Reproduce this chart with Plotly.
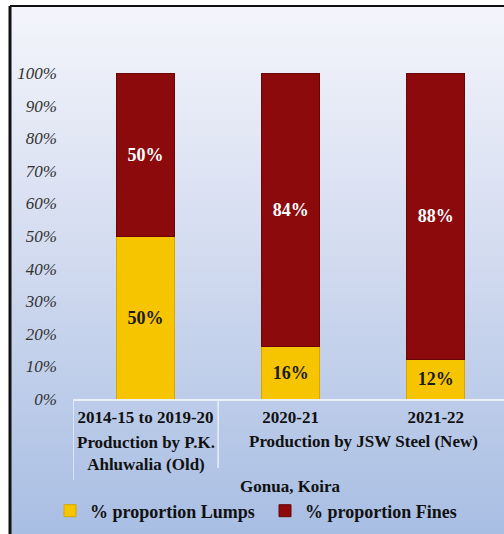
import base64
import plotly.graph_objects as go

categories = ["2014-15 to 2019-20", "2020-21", "2021-22"]
lumps = [50, 16, 12]
fines = [50, 84, 88]
group_labels = ["Production by P.K.<br>Ahluwalia (Old)", "Production by JSW Steel (New)"]
site_label = "Gonua, Koira"
y_ticks = [0, 10, 20, 30, 40, 50, 60, 70, 80, 90, 100]

W, H = 504, 534
L, R, T, B = 73, 0, 73, 135
PW, PH = W - L - R, H - T - B


def px_x(p):
    return (p - L) / PW


def px_y(p):
    return (H - B - p) / PH


SERIF = "Liberation Serif, Times New Roman, serif"

svg = ("<svg xmlns='http://www.w3.org/2000/svg' width='100' height='100' preserveAspectRatio='none'>"
       "<defs><linearGradient id='g' x1='0' y1='0' x2='0' y2='1'>"
       "<stop offset='0' stop-color='#f4f5fb'/>"
       "<stop offset='0.45' stop-color='#d4dcf0'/>"
       "<stop offset='1' stop-color='#a8bee3'/>"
       "</linearGradient></defs><rect width='100' height='100' fill='url(#g)'/></svg>")
bg_src = "data:image/svg+xml;base64," + base64.b64encode(svg.encode()).decode()

fig = go.Figure()
fig.add_trace(go.Bar(
    x=categories, y=lumps, name="% proportion Lumps",
    marker=dict(color="#f7c500", line=dict(color="#d8a600", width=1)),
    text=[f"{v}%" for v in lumps], textposition="inside", insidetextanchor="middle",
    textangle=0,
    textfont=dict(family=SERIF, size=18, color="#1a1a1a", weight="bold"),
    width=0.4,
))
fig.add_trace(go.Bar(
    x=categories, y=fines, name="% proportion Fines",
    marker=dict(color="#8c0a0c", line=dict(color="#6a0506", width=1)),
    text=[f"{v}%" for v in fines], textposition="inside", insidetextanchor="middle",
    textangle=0,
    textfont=dict(family=SERIF, size=18, color="white", weight="bold"),
    width=0.4,
))

line_col = "#e9eef7"
shapes = [
    dict(type="line", xref="paper", yref="paper", x0=px_x(10), x1=px_x(10), y0=px_y(6), y1=px_y(534),
         line=dict(color="#111111", width=3)),
    dict(type="line", xref="paper", yref="paper", x0=px_x(10), x1=1, y0=px_y(6), y1=px_y(6),
         line=dict(color="#111111", width=2)),
    dict(type="line", xref="x", yref="paper", x0=-0.5, x1=-0.5, y0=0, y1=px_y(480),
         line=dict(color=line_col, width=1.5)),
    dict(type="line", xref="x", yref="paper", x0=0.5, x1=0.5, y0=0, y1=px_y(468),
         line=dict(color=line_col, width=1.5)),
]

lab_font = dict(family=SERIF, size=17, color="#111111", weight="bold")
annotations = [
    dict(x=0, xref="x", y=px_y(431), yref="paper", yanchor="top", text=group_labels[0],
         showarrow=False, font=lab_font),
    dict(x=1.5, xref="x", y=px_y(442), yref="paper", yanchor="middle", text=group_labels[1],
         showarrow=False, font=lab_font),
    dict(x=1, xref="x", y=px_y(486), yref="paper", yanchor="middle", text=site_label,
         showarrow=False, font=lab_font),
]

fig.update_layout(
    width=W, height=H,
    margin=dict(l=L, r=R, t=T, b=B, pad=0),
    barmode="stack",
    paper_bgcolor="white",
    plot_bgcolor="rgba(0,0,0,0)",
    images=[dict(source=bg_src, xref="paper", yref="paper", x=px_x(10), y=px_y(6),
                 sizex=1 - px_x(10), sizey=px_y(6) - px_y(534), xanchor="left", yanchor="top",
                 sizing="stretch", layer="below")],
    shapes=shapes,
    annotations=annotations,
    showlegend=True,
    legend=dict(orientation="h", xref="container", x=50 / W, xanchor="left",
                yref="container", y=(H - 511) / H, yanchor="middle",
                font=dict(family=SERIF, size=18, color="#111111", weight="bold"),
                bgcolor="rgba(0,0,0,0)", traceorder="normal", entrywidth=170,
                itemwidth=30, itemclick=False),
    xaxis=dict(type="category", range=[-0.5, 2.47], showline=True, linecolor=line_col, linewidth=1.5,
               showgrid=False, ticks="", zeroline=False, ticklabelstandoff=2,
               tickfont=dict(family=SERIF, size=17, color="#111111", weight="bold")),
    yaxis=dict(range=[0, 100], tickvals=y_ticks, ticktext=[f"{v}%" for v in y_ticks],
               showgrid=False, zeroline=False,
               showline=False, ticks="", ticklabelstandoff=15,
               tickfont=dict(family=SERIF, size=17, color="#333333", style="italic")),
)

fig.write_html("out.html")
